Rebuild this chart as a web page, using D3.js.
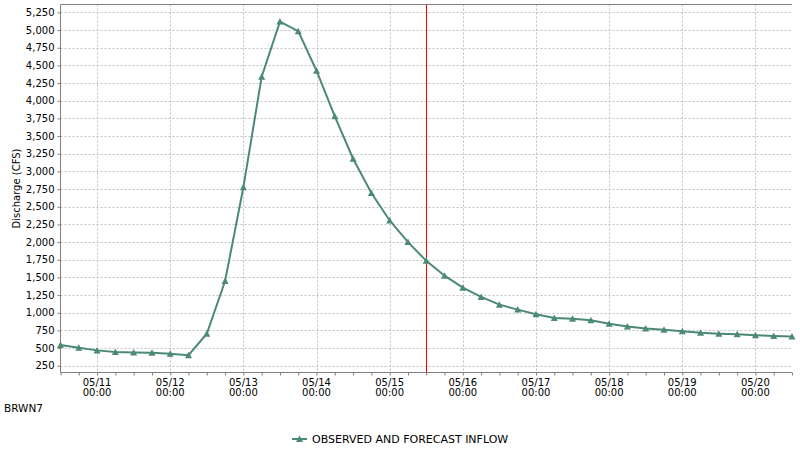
<!DOCTYPE html>
<html><head><meta charset="utf-8">
<script src="https://cdn.jsdelivr.net/npm/d3@7"></script>
<style>
body{margin:0;background:#fff;}
svg{display:block;font-family:"DejaVu Sans",sans-serif;}
</style></head>
<body><svg id="c" width="800" height="450"></svg>
<script>
const times = ["05/10 12:00","05/10 18:00","05/11 00:00","05/11 06:00","05/11 12:00","05/11 18:00",
"05/12 00:00","05/12 06:00","05/12 12:00","05/12 18:00","05/13 00:00","05/13 06:00","05/13 12:00","05/13 18:00",
"05/14 00:00","05/14 06:00","05/14 12:00","05/14 18:00","05/15 00:00","05/15 06:00","05/15 12:00","05/15 18:00",
"05/16 00:00","05/16 06:00","05/16 12:00","05/16 18:00","05/17 00:00","05/17 06:00","05/17 12:00","05/17 18:00",
"05/18 00:00","05/18 06:00","05/18 12:00","05/18 18:00","05/19 00:00","05/19 06:00","05/19 12:00","05/19 18:00",
"05/20 00:00","05/20 06:00","05/20 12:00"];
const inflow = [545,505,468,445,438,434,422,400,703,1450,2775,4340,5120,4985,4425,3780,3180,2695,2306,2000,1735,1525,
1355,1225,1115,1045,980,925,915,895,845,805,778,760,737,718,705,695,682,672,665];
const yTicks = [250,500,750,1000,1250,1500,1750,2000,2250,2500,2750,3000,3250,3500,3750,4000,4250,4500,4750,5000,5250];
const xTickLabels = ["05/11 00:00","05/12 00:00","05/13 00:00","05/14 00:00","05/15 00:00","05/16 00:00","05/17 00:00","05/18 00:00","05/19 00:00","05/20 00:00"];
const xDomain = ["05/10 12:00","05/20 12:00"];
const yDomain = [155, 5362];
const nowMarker = "05/15 12:00";
const seriesName = "OBSERVED AND FORECAST INFLOW";
const yTitle = "Discharge (CFS)";
const station = "BRWN7";

const parse = s => { const [md, hm] = s.split(" "); const [m,d] = md.split("/").map(Number); const [h,mi]=hm.split(":").map(Number); return new Date(Date.UTC(2019, m-1, d, h, mi)); };
const data = times.map((t,i)=>({t:parse(t), v:inflow[i]}));

const L=60.5, R=792, T=4.5, B=372.5;
const svg = d3.select("#c");
const x = d3.scaleUtc().domain(xDomain.map(parse)).range([L,R]);
const y = d3.scaleLinear().domain(yDomain).range([B,T]);
const green = "#4b8a73";

// grid
const g = svg.append("g");
g.selectAll(".hg").data(yTicks).join("line")
  .attr("x1",L).attr("x2",R).attr("y1",d=>Math.round(y(d))+0.5).attr("y2",d=>Math.round(y(d))+0.5)
  .attr("stroke","#c0c0c0").attr("stroke-dasharray","2,2");
g.selectAll(".vg").data(xTickLabels.map(parse)).join("line")
  .attr("x1",d=>Math.round(x(d))+0.5).attr("x2",d=>Math.round(x(d))+0.5).attr("y1",T).attr("y2",B)
  .attr("stroke","#c0c0c0").attr("stroke-dasharray","2,2");

// top border
svg.append("line").attr("x1",L).attr("x2",R).attr("y1",T).attr("y2",T).attr("stroke","#808080");

// y axis
const ya = svg.append("g").attr("transform",`translate(${L},0)`)
  .call(d3.axisLeft(y).tickValues(yTicks).tickSize(3).tickPadding(3).tickFormat(d3.format(",")));
ya.select(".domain").attr("stroke","#808080").attr("d",`M0,${T}V${B}`);
ya.selectAll(".tick line").attr("stroke","#808080");
ya.selectAll("text").attr("font-size",10).attr("fill","#000").attr("font-family","DejaVu Sans");

// x axis minor ticks (6h)
const xa = svg.append("g").attr("transform",`translate(0,${B})`)
  .call(d3.axisBottom(x).tickValues(times.map(parse)).tickSize(3).tickFormat(""));
xa.select(".domain").attr("stroke","#808080").attr("d",`M${L},0H${R}`);
xa.selectAll(".tick line").attr("stroke","#808080");

// x labels
const xl = svg.append("g");
xTickLabels.forEach(s=>{
  const [md,hm]=s.split(" ");
  const t = xl.append("text").attr("x",x(parse(s))).attr("text-anchor","middle").attr("font-size",10).attr("fill","#000");
  t.append("tspan").attr("x",x(parse(s))).attr("y",386).text(md);
  t.append("tspan").attr("x",x(parse(s))).attr("y",396).text(hm);
});

// y title
svg.append("text").attr("transform",`translate(20,${(T+B)/2}) rotate(-90)`).attr("text-anchor","middle")
  .attr("font-size",10).attr("fill","#000").text(yTitle);

// now line
svg.append("line").attr("x1",Math.round(x(parse(nowMarker)))+0.5).attr("x2",Math.round(x(parse(nowMarker)))+0.5)
  .attr("y1",T).attr("y2",B).attr("stroke","#ff0000").attr("stroke-width",1);

// series
const line = d3.line().x(d=>x(d.t)).y(d=>y(d.v));
svg.append("path").datum(data).attr("d",line).attr("fill","none").attr("stroke",green).attr("stroke-width",2);
const tri = "M0,-3.5L3.5,3L-3.5,3Z";
svg.selectAll(".m").data(data).join("path").attr("d",tri)
  .attr("transform",d=>`translate(${x(d.t)},${y(d.v)})`).attr("fill",green);

// station
svg.append("text").attr("x",4).attr("y",412).attr("font-size",10.5).attr("fill","#000").text(station);

// legend
svg.append("line").attr("x1",292).attr("x2",307).attr("y1",439).attr("y2",439).attr("stroke",green).attr("stroke-width",2);
svg.append("path").attr("d",tri).attr("transform","translate(299.5,439)").attr("fill",green);
svg.append("text").attr("x",312).attr("y",443).attr("font-size",11).attr("fill","#000").text(seriesName);
</script></body></html>
